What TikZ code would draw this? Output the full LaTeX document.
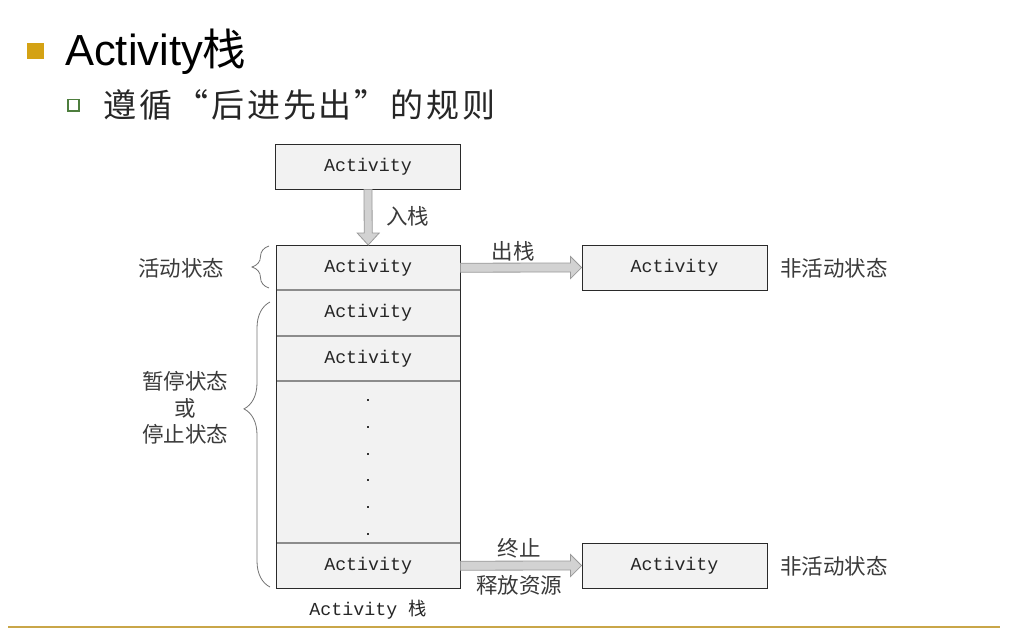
\documentclass[tikz,border=0pt]{standalone}
\usepackage{fontspec}
\setmainfont{Liberation Sans}
\setmonofont{Liberation Mono}
\newfontfamily\cjk{Noto Sans CJK SC}
\usetikzlibrary{calc,decorations.pathreplacing}

\definecolor{cellfill}{HTML}{F2F2F2}
\definecolor{cellline}{HTML}{8C8C8C}
\definecolor{frame}{HTML}{2A2A2A}
\definecolor{arrfill}{HTML}{D2D2D2}
\definecolor{arrline}{HTML}{9A9A9A}
\definecolor{gold}{HTML}{D4A214}
\definecolor{rulegold}{HTML}{C9A648}
\definecolor{bulletgreen}{HTML}{4E7E3E}
\definecolor{labelgray}{HTML}{3A3A3A}

\begin{document}
\begin{tikzpicture}[x=1pt,y=-1pt,
  cell/.style={draw=none, fill=cellfill, minimum width=184pt, anchor=north west,
    inner sep=0pt, font=\ttfamily\fontsize{18.3}{20}\selectfont, text=black!85},
  actbox/.style={draw=frame, line width=0.9pt, fill=cellfill, minimum width=185pt,
    minimum height=45pt, inner sep=0pt, font=\ttfamily\fontsize{18.3}{20}\selectfont, text=black!85},
  lbl/.style={font=\cjk\fontsize{21.5}{26}\selectfont, text=labelgray, inner sep=0pt},
  fatarrow/.style={draw=arrline, fill=arrfill, line width=0.8pt, line join=miter},
  bracket/.style={draw=black!55, line width=0.8pt, decorate},
]
\useasboundingbox (0,0) rectangle (1030,633);

% heading
\fill[gold] (27,43) rectangle (44,59);
\node[anchor=base west, inner sep=0pt, font=\fontsize{43.5}{48}\selectfont] (title) at (65,65)
  {Activity{\cjk 栈}};
\draw[bulletgreen, line width=1.6pt, fill=white] (68,99.5) rectangle (79,111);
\node[anchor=west, inner sep=0pt, font=\cjk\fontsize{33}{38}\selectfont\addfontfeature{LetterSpace=9}, text=black!85] (rule) at (103,105)
  {遵循“后进先出”的规则};

% incoming activity
\node[actbox, minimum height=45pt] (top) at (368,166.5) {Activity};

% the stack
\node[cell, minimum height=45pt] (s1) at (276,245) {Activity};
\node[cell, minimum height=46pt] (s2) at (276,290) {Activity};
\node[cell, minimum height=45pt] (s3) at (276,336) {Activity};
\node[cell, minimum height=162pt] (sd) at (276,381) {};
\node[cell, minimum height=45pt] (s5) at (276,543) {Activity};
\foreach \n in {s2,s3,sd,s5}
  \draw[cellline, line width=2pt] (\n.north west) -- (\n.north east);
\draw[frame, line width=1pt] (s1.north west) rectangle (s5.south east);
\foreach \yy in {399,426,453,479,506,533}
  \fill[black!80] (367,\yy) rectangle (369.2,\yy+2.2);
\node[anchor=base, inner sep=0pt, font=\ttfamily\fontsize{18.3}{20}\selectfont, text=black!85] (stackname)
  at (368,615) {Activity {\cjk 栈}};

% popped / destroyed activities
\node[actbox] (out1) at (674.5,267.5) {Activity};
\node[actbox] (out2) at (674.5,565.5) {Activity};
\node[lbl, anchor=west] (st1) at (780,268) {非活动状态};
\node[lbl, anchor=west] (st2) at (780,566) {非活动状态};

% push arrow
\draw[fatarrow]
  ($(top.south)+(-4,0)$) -- ($(s1.north)+(-4,-12)$) -- ($(s1.north)+(-11,-12)$) --
  (s1.north) -- ($(s1.north)+(11,-12)$) -- ($(s1.north)+(4,-12)$) --
  ($(top.south)+(4,0)$) -- cycle;
\node[lbl, anchor=west] (push) at (386,216) {入栈};

% pop arrow
\draw[fatarrow]
  ($(s1.east)+(0,-4.5)$) -- ($(out1.west)+(-11,-4.5)$) -- ($(out1.west)+(-11,-11)$) --
  (out1.west) -- ($(out1.west)+(-11,11)$) -- ($(out1.west)+(-11,4.5)$) --
  ($(s1.east)+(0,4.5)$) -- cycle;
\node[lbl] (pop) at (513,251) {出栈};

% destroy arrow
\draw[fatarrow]
  ($(s5.east)+(0,-4.5)$) -- ($(out2.west)+(-11,-4.5)$) -- ($(out2.west)+(-11,-11)$) --
  (out2.west) -- ($(out2.west)+(-11,11)$) -- ($(out2.west)+(-11,4.5)$) --
  ($(s5.east)+(0,4.5)$) -- cycle;
\node[lbl] (stop) at (519,548) {终止};
\node[lbl] (free) at (519,585) {释放资源};

% state braces
\coordinate (b1a) at (269,288);
\coordinate (b1b) at (269,246);
\coordinate (b2a) at (270,587);
\coordinate (b2b) at (270,302);
\draw[bracket, decoration={brace, amplitude=17pt}] (b1a) -- (b1b);
\draw[bracket, decoration={brace, amplitude=26pt, aspect=0.625}] (b2a) -- (b2b);
\node[lbl] (active) at (181,268) {活动状态};
\node[lbl, align=center, font=\cjk\fontsize{21.5}{26.5}\selectfont] (paused) at (185,408)
  {暂停状态\\或\\停止状态};

% footer rule
\draw[rulegold, line width=2.5pt] (8,627) -- (1000,627);
\end{tikzpicture}
\end{document}
